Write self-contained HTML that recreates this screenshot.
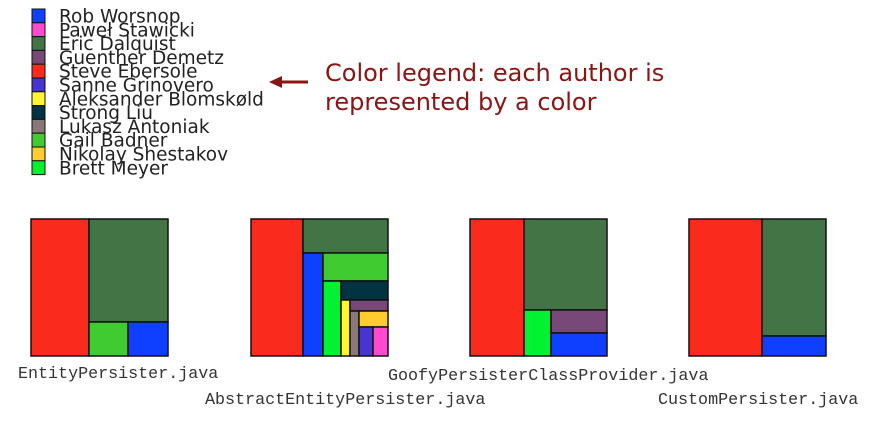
<!DOCTYPE html>
<html><head><meta charset="utf-8"><style>
html,body{margin:0;padding:0;background:#fff;width:883px;height:443px;overflow:hidden}
</style></head><body>
<svg width="883" height="443" xmlns="http://www.w3.org/2000/svg">
<g stroke="#111" stroke-width="1">
<rect x="32" y="9" width="13" height="13.8" fill="#1040ff"/>
<rect x="32" y="22.8" width="13" height="13.8" fill="#ff4ad0"/>
<rect x="32" y="36.6" width="13" height="13.8" fill="#427445"/>
<rect x="32" y="50.4" width="13" height="13.8" fill="#784878"/>
<rect x="32" y="64.2" width="13" height="13.8" fill="#fa2a1c"/>
<rect x="32" y="78" width="13" height="13.8" fill="#4834d0"/>
<rect x="32" y="91.8" width="13" height="13.8" fill="#fff530"/>
<rect x="32" y="105.6" width="13" height="13.8" fill="#023343"/>
<rect x="32" y="119.4" width="13" height="13.8" fill="#8a7878"/>
<rect x="32" y="133.2" width="13" height="13.8" fill="#40cc30"/>
<rect x="32" y="147" width="13" height="13.8" fill="#ffcc30"/>
<rect x="32" y="160.8" width="13" height="13.8" fill="#00f230"/>
</g>
<g font-family="DejaVu Sans, sans-serif" font-size="18.5" fill="#222">
<text x="59" y="22.5">Rob Worsnop</text>
<text x="59" y="36.3">Paweł Stawicki</text>
<text x="59" y="50.1">Eric Dalquist</text>
<text x="59" y="63.9">Guenther Demetz</text>
<text x="59" y="77.7">Steve Ebersole</text>
<text x="59" y="91.5">Sanne Grinovero</text>
<text x="59" y="105.3">Aleksander Blomskøld</text>
<text x="59" y="119.1">Strong Liu</text>
<text x="59" y="132.9">Lukasz Antoniak</text>
<text x="59" y="146.7">Gail Badner</text>
<text x="59" y="160.5">Nikolay Shestakov</text>
<text x="59" y="174.3">Brett Meyer</text>
</g>
<line x1="280" y1="82" x2="308" y2="82" stroke="#8b1414" stroke-width="3"/>
<polygon points="269,82 282,76 282,88" fill="#8b1414"/>
<g font-family="DejaVu Sans, sans-serif" font-size="24" fill="#8b1414">
<text x="325" y="81">Color legend: each author is</text>
<text x="325" y="110">represented by a color</text>
</g>
<g stroke="#111" stroke-width="1.5">
<rect x="31" y="219" width="58" height="137" fill="#fa2a1c"/>
<rect x="89" y="219" width="79" height="103" fill="#427445"/>
<rect x="89" y="322" width="39" height="34" fill="#40cc30"/>
<rect x="128" y="322" width="40" height="34" fill="#1040ff"/>

<rect x="251" y="219" width="52" height="137" fill="#fa2a1c"/>
<rect x="303" y="219" width="85" height="34" fill="#427445"/>
<rect x="303" y="253" width="20" height="103" fill="#1040ff"/>
<rect x="323" y="253" width="65" height="28" fill="#40cc30"/>
<rect x="323" y="281" width="18" height="75" fill="#00f230"/>
<rect x="341" y="281" width="47" height="19" fill="#023343"/>
<rect x="341" y="300" width="9" height="56" fill="#fff530"/>
<rect x="350" y="300" width="38" height="11" fill="#784878"/>
<rect x="350" y="311" width="9" height="45" fill="#8a7878"/>
<rect x="359" y="311" width="29" height="16" fill="#ffcc30"/>
<rect x="359" y="327" width="14" height="29" fill="#4834d0"/>
<rect x="373" y="327" width="15" height="29" fill="#ff4ad0"/>

<rect x="470" y="219" width="54" height="137" fill="#fa2a1c"/>
<rect x="524" y="219" width="83" height="91" fill="#427445"/>
<rect x="524" y="310" width="27" height="46" fill="#00f230"/>
<rect x="551" y="310" width="56" height="23" fill="#784878"/>
<rect x="551" y="333" width="56" height="23" fill="#1040ff"/>

<rect x="689" y="219" width="73" height="137" fill="#fa2a1c"/>
<rect x="762" y="219" width="64" height="117" fill="#427445"/>
<rect x="762" y="336" width="64" height="20" fill="#1040ff"/>
</g>
<g font-family="Liberation Mono, monospace" font-size="16.7" fill="#333">
<text x="18" y="378">EntityPersister.java</text>
<text x="205" y="404">AbstractEntityPersister.java</text>
<text x="388" y="380">GoofyPersisterClassProvider.java</text>
<text x="658" y="404">CustomPersister.java</text>
</g>
</svg>
</body></html>
